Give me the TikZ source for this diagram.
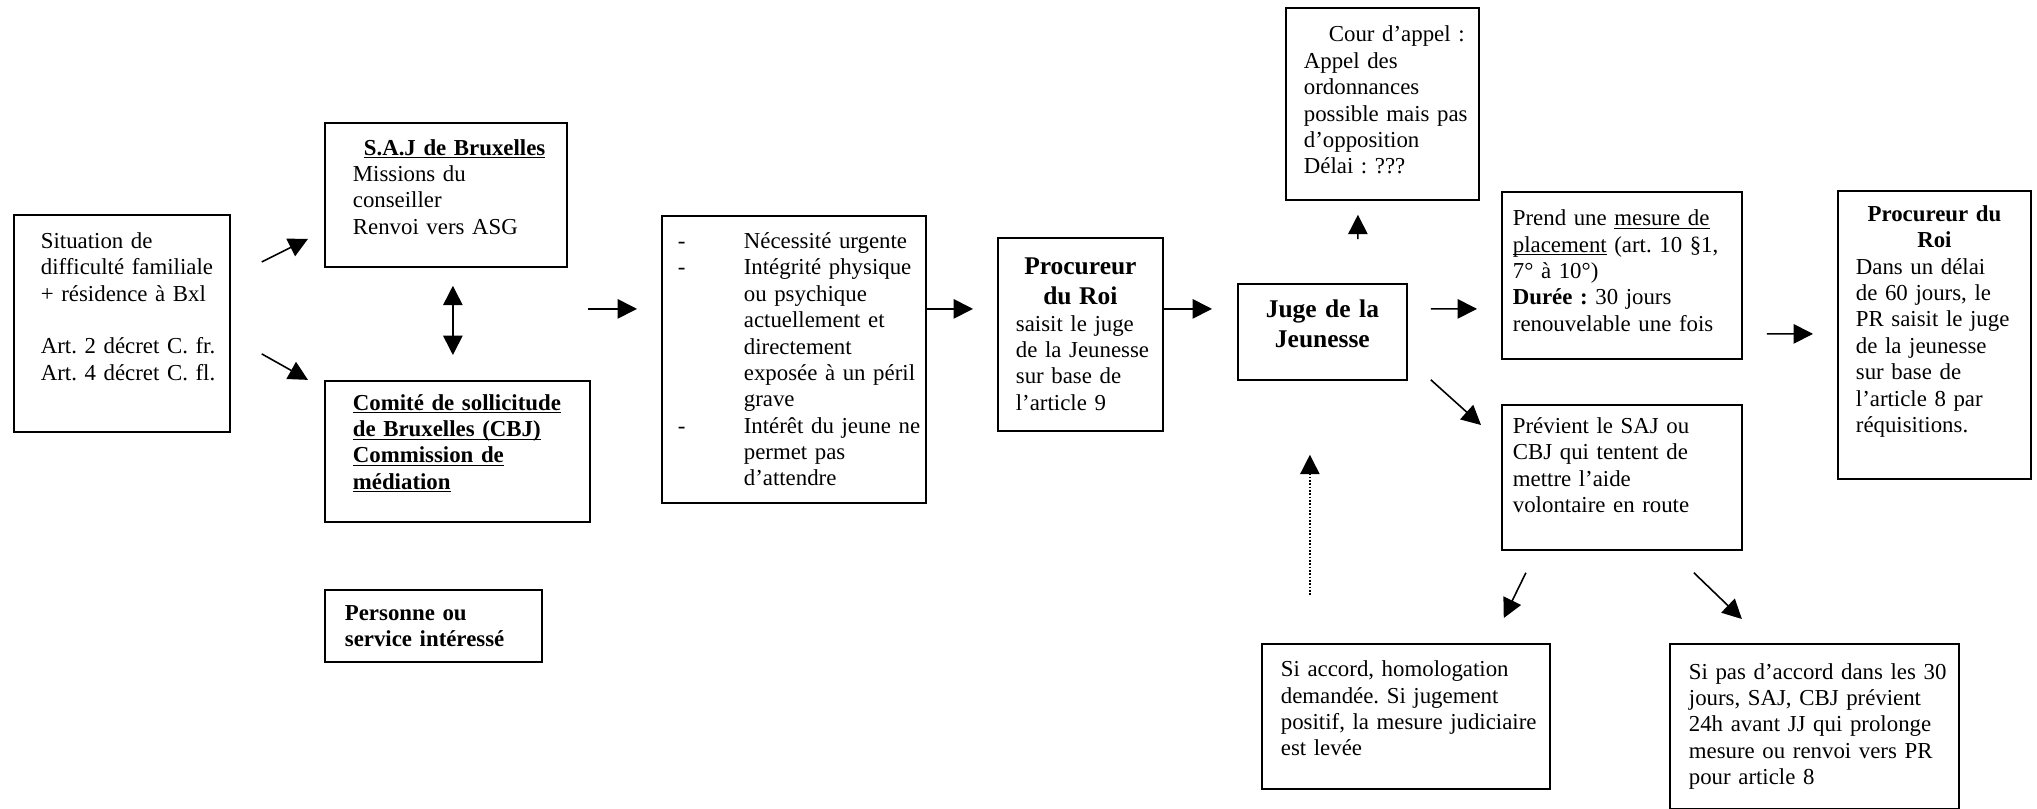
\documentclass[tikz,border=0pt]{standalone}
\usepackage{fontspec}
\setmainfont{Liberation Serif}
\usetikzlibrary{arrows.meta, calc}
\frenchspacing

\newcommand{\titre}[1]{{\centering\fontsize{14.5}{17}\selectfont\bfseries #1\par}}
\newcommand{\souligne}[1]{\underline{\smash{#1}}}

\begin{document}
\begin{tikzpicture}[x=0.02cm, y=-0.02cm,
  box/.style={draw, line width=1pt, anchor=north west, inner sep=0pt, align=left,
    font=\fontsize{13}{15}\selectfont\frenchspacing},
  wh/.style 2 args={minimum width=#1*0.02cm, text width=#1*0.02cm, minimum height=#2*0.02cm},
  pad/.style={execute at begin node={\leftskip=#1\relax}},
  arr/.style={line width=0.9pt, -{Triangle[length=11pt, width=11pt]}}]
\useasboundingbox (0,0) rectangle (2037,808);

\node[box, wh={216}{217}, pad=0.54cm] (sit) at (13,214) {Situation de\\
difficulté familiale\\
+ résidence à Bxl\\[15pt]
Art. 2 décret C. fr.\\
Art. 4 décret C. fl.\\[4.5pt]\mbox{}};
\node[box, wh={242}{144}, pad=0.56cm] (saj) at (324,122) {\hspace*{0.22cm}\textbf{\souligne{S.A.J de Bruxelles}}\\
Missions du\\
conseiller\\
Renvoi vers ASG};
\node[box, wh={265}{141}, pad=0.56cm] (cbj) at (324,380) {\textbf{\souligne{Comité de sollicitude}}\\
\textbf{\souligne{de Bruxelles (CBJ)}}\\
\textbf{\souligne{Commission de}}\\
\textbf{\souligne{médiation}}};
\node[box, wh={217}{72}, pad=0.40cm] (pers) at (324,589) {\textbf{Personne ou}\\
\textbf{service intéressé}};

\node[box, wh={264}{287}, pad=0.32cm] (crit) at (661,215) {\makebox[1.32cm][l]{-}Nécessité urgente\\
\makebox[1.32cm][l]{-}Intégrité physique\\
\hspace*{1.32cm}ou psychique\\
\hspace*{1.32cm}actuellement et\\
\hspace*{1.32cm}directement\\
\hspace*{1.32cm}exposée à un péril\\
\hspace*{1.32cm}grave\\
\makebox[1.32cm][l]{-}Intérêt du jeune ne\\
\hspace*{1.32cm}permet pas\\
\hspace*{1.32cm}d’attendre};

\node[box, wh={165}{193}, pad=0.36cm] (proc) at (997,237) {\titre{Procureur\\ du Roi}
saisit le juge\\
de la Jeunesse\\
sur base de\\
l’article 9};
\node[box, wh={169}{96}, align=center, font=\fontsize{14.5}{17}\selectfont\bfseries] (juge) at (1237,283) {Juge de la\\ Jeunesse\\[-8pt]\mbox{}};
\node[box, wh={193}{192}, pad=0.36cm] (cour) at (1285,7) {\hspace*{0.5cm}Cour d’appel :\\
Appel des\\
ordonnances\\
possible mais pas\\
d’opposition\\
Délai : ???\\[-10.5pt]\mbox{}};

\node[box, wh={240}{167}, pad=0.22cm] (prend) at (1501,191) {Prend une \souligne{mesure de}\\
\souligne{placement} (art. 10 §1,\\
7° à 10°)\\
\textbf{Durée :} 30 jours\\
renouvelable une fois\\[-9.5pt]\mbox{}};
\node[box, wh={240}{145}, pad=0.22cm] (prev) at (1501,404) {Prévient le SAJ ou\\
CBJ qui tentent de\\
mettre l’aide\\
volontaire en route\\[-1pt]\mbox{}};
\node[box, wh={193}{288}, pad=0.36cm] (pr) at (1837,190) {{\centering\bfseries Procureur du\\ Roi\par}
Dans un délai\\
de 60 jours, le\\
PR saisit le juge\\
de la jeunesse\\
sur base de\\
l’article 8 par\\
réquisitions.\\[3pt]\mbox{}};

\node[box, wh={288}{145}, pad=0.38cm] (acc) at (1261,643) {Si accord, homologation\\
demandée. Si jugement\\
positif, la mesure judiciaire\\
est levée\\[-6pt]\mbox{}};
\node[box, wh={289}{165}, pad=0.38cm] (pas) at (1669,643) {Si pas d’accord dans les 30\\
jours, SAJ, CBJ prévient\\
24h avant JJ qui prolonge\\
mesure ou renvoi vers PR\\
pour article 8};

\draw[arr] ($(sit.east)+(31,-61.5)$) -- ($(saj.west)+(-16,44)$);
\draw[arr] ($(sit.east)+(31,30.5)$) -- ($(cbj.west)+(-16,-71.5)$);
\draw[line width=0.9pt, {Triangle[length=11pt, width=11pt]}-{Triangle[length=11pt, width=11pt]}] ($(saj.south)+(7,18)$) -- ($(cbj.north)+(-4.5,-25)$);
\draw[arr] ($(crit.west)+(-73,-50.5)$) -- ($(crit.west)+(-24,-50.5)$);
\draw[arr] ($(crit.east)+(0,-50.5)$) -- ($(proc.west)+(-24,-25.5)$);
\draw[arr] ($(proc.east)+(0,-25.5)$) -- ($(juge.west)+(-25,-23)$);
\draw[arr] ($(juge.north)+(35.5,-44)$) -- ($(cour.south)+(-24.5,14)$);
\draw[arr] ($(juge.east)+(23,-23)$) -- ($(prend.west)+(-24,33.5)$);
\draw[arr] ($(juge.south east)+(23,-1)$) -- ($(prev.north west)+(-20,21)$);
\draw[arr] ($(prend.east)+(24,58.5)$) -- ($(pr.west)+(-24,-1)$);
\draw[arr, densely dotted, line width=0.8pt] ($(acc.north)+(-96,-48)$) -- ($(juge.south)+(-12.5,74)$);
\draw[arr] ($(prev.south)+(-96,22)$) -- ($(acc.north east)+(-47,-25)$);
\draw[arr] ($(prev.south)+(72,22)$) -- ($(pas.north)+(-72.5,-24)$);
\end{tikzpicture}
\end{document}
